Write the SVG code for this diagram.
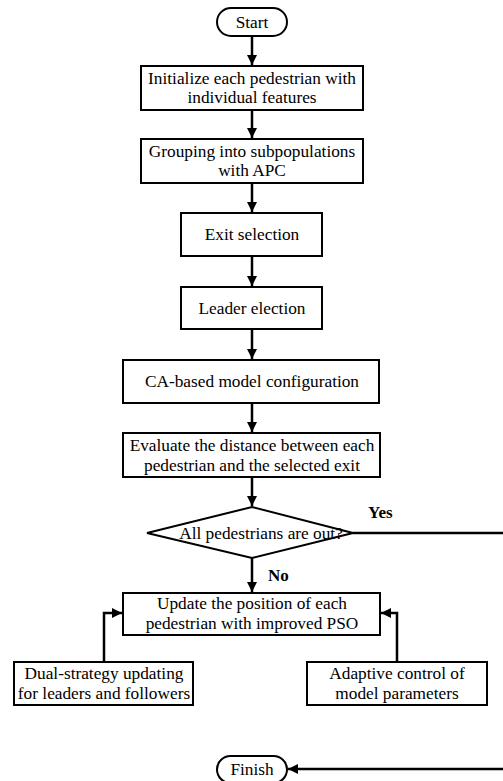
<svg xmlns="http://www.w3.org/2000/svg" width="503" height="781" viewBox="0 0 503 781">
<style>
.n{fill:#fff;stroke:#000;stroke-width:2}
.t{font-family:'Liberation Serif','Times New Roman',serif;font-size:17.3px;fill:#000;text-anchor:middle}
.b{font-family:'Liberation Serif','Times New Roman',serif;font-size:17px;font-weight:bold;fill:#000}
.c{fill:none;stroke:#000;stroke-width:2.5}
</style>
<defs>
<marker id="ah" viewBox="0 0 10 10" refX="10" refY="5" markerWidth="4" markerHeight="4" orient="auto" markerUnits="strokeWidth">
<path d="M0,0 L10,5 L0,10 Z" fill="#000"/>
</marker>
</defs>
<rect width="503" height="781" fill="#fff"/>
<g id="connectors">
<path class="c" d="M252,36 V65" marker-end="url(#ah)"/>
<path class="c" d="M252,110 V138" marker-end="url(#ah)"/>
<path class="c" d="M252,183 V212" marker-end="url(#ah)"/>
<path class="c" d="M252,256 V286" marker-end="url(#ah)"/>
<path class="c" d="M252,329 V359" marker-end="url(#ah)"/>
<path class="c" d="M252,403 V432" marker-end="url(#ah)"/>
<path class="c" d="M252,477 V506" marker-end="url(#ah)"/>
<path class="c" d="M252,558 V592" marker-end="url(#ah)"/>
<path class="c" d="M104,662 V613 H122" marker-end="url(#ah)"/>
<path class="c" d="M397,662 V613 H381" marker-end="url(#ah)"/>
<path class="c" d="M353,533 H506 V769 H288" marker-end="url(#ah)"/>
</g>
<g id="start"><rect class="n" x="217" y="8" width="70" height="28" rx="14"/><text class="t" x="252" y="28">Start</text></g>
<g id="init"><rect class="n" x="141" y="66" width="222" height="44"/><text class="t" x="252" y="84">Initialize each pedestrian with</text><text class="t" x="252" y="103">individual features</text></g>
<g id="group"><rect class="n" x="141" y="139" width="222" height="44"/><text class="t" x="252" y="157">Grouping into subpopulations</text><text class="t" x="252" y="176">with APC</text></g>
<g id="exit"><rect class="n" x="181" y="213" width="141" height="43"/><text class="t" x="252" y="240">Exit selection</text></g>
<g id="leader"><rect class="n" x="181" y="287" width="141" height="42"/><text class="t" x="252" y="314">Leader election</text></g>
<g id="ca"><rect class="n" x="123" y="360" width="256" height="43"/><text class="t" x="252" y="387">CA-based model configuration</text></g>
<g id="eval"><rect class="n" x="123" y="433" width="257" height="44"/><text class="t" x="252" y="451">Evaluate the distance between each</text><text class="t" x="252" y="471">pedestrian and the selected exit</text></g>
<g id="decision"><polygon class="n" points="252,507 353,533 252,558 147,533"/><text class="t" x="261" y="539">All pedestrians are out?</text></g>
<text class="b" x="368" y="518">Yes</text>
<text class="b" x="268" y="581">No</text>
<g id="update"><rect class="n" x="123" y="593" width="257" height="42"/><text class="t" x="252" y="609">Update the position of each</text><text class="t" x="252" y="629">pedestrian with improved PSO</text></g>
<g id="dual"><rect class="n" x="14" y="662" width="179" height="43"/><text class="t" x="104" y="679">Dual-strategy updating</text><text class="t" x="104" y="699">for leaders and followers</text></g>
<g id="adaptive"><rect class="n" x="307" y="662" width="180" height="43"/><text class="t" x="397" y="679">Adaptive control of</text><text class="t" x="397" y="699">model parameters</text></g>
<g id="finish"><rect class="n" x="217" y="756" width="70" height="27" rx="13.5"/><text class="t" x="252" y="775">Finish</text></g>
</svg>
